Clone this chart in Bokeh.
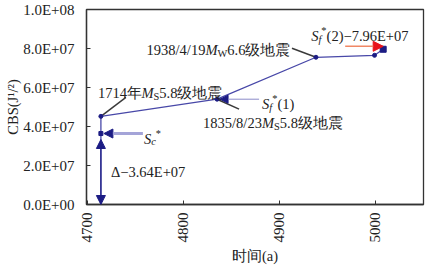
import math
from bokeh.plotting import figure
from bokeh.models import Range1d, FixedTicker, CustomJSTickFormatter, Label, Arrow, NormalHead, Title
from bokeh.embed import file_html
from bokeh.resources import INLINE

# ---------------- data ----------------
years = [4714, 4835, 4938, 4999, 5008]
cbs = [4.52e7, 5.40e7, 7.55e7, 7.65e7, 7.96e7]
sc_year = 4714
sc_value = 3.64e7
x_ticks = [4700, 4800, 4900, 5000]
y_ticks = [0, 2e7, 4e7, 6e7, 8e7, 1e8]
x_title = "时间(a)"
y_title = "CBS(J¹/²)"

# ---------------- layout ----------------
W, H = 430, 266
BL, BR, BT, BB = 86, 7, 9, 61
X0, X1 = 4699, 5050
Y0, Y1 = 0, 1e8
FW = W - BL - BR
FH = H - BT - BB
def dx(px):
    return px * (X1 - X0) / FW
def dy(px):
    return px * (Y1 - Y0) / FH

FONT = "Times New Roman"
FS = 14.5
TFS = 15
TXT = "#222222"
LINE = "#4848a8"
DARK = "#1c1c84"

p = figure(width=W, height=H, output_backend="svg", toolbar_location=None,
           x_range=Range1d(X0, X1), y_range=Range1d(Y0, Y1),
           min_border_left=BL, min_border_right=BR, min_border_top=BT, min_border_bottom=BB)
p.background_fill_color = "white"
p.border_fill_color = "white"
p.outline_line_color = "#333333"
p.outline_line_width = 1.3
p.grid.visible = False

for ax in (p.xaxis[0], p.yaxis[0]):
    ax.axis_line_color = "#333333"
    ax.axis_line_width = 1.3
    ax.major_tick_in = 4
    ax.major_tick_out = 0
    ax.major_tick_line_color = "#333333"
    ax.minor_tick_line_color = None
    ax.major_label_text_font = FONT
    ax.major_label_text_font_size = f"{TFS}px"
    ax.major_label_text_color = TXT
    ax.axis_label_text_font = FONT
    ax.axis_label_text_font_size = f"{FS}px"
    ax.axis_label_text_font_style = "normal"
    ax.axis_label_text_color = TXT

p.xaxis.ticker = FixedTicker(ticks=x_ticks)
p.yaxis.ticker = FixedTicker(ticks=y_ticks)
p.xaxis.major_label_orientation = math.pi / 2
p.xaxis.major_label_standoff = 8
p.yaxis.major_label_standoff = 12
p.yaxis.formatter = CustomJSTickFormatter(code="""
const s = tick.toExponential(1).split('e');
const e = parseInt(s[1]);
return s[0] + 'E' + (e < 0 ? '-' : '+') + String(Math.abs(e)).padStart(2, '0');
""")
p.xaxis.axis_label = x_title
p.xaxis.axis_label_standoff = 2

# y-axis title placed as a left-side title (outermost)
p.add_layout(Title(text=y_title, align="center", text_font=FONT, text_font_size=f"{FS}px",
                   text_font_style="normal", text_color=TXT, standoff=0, offset=0), "left")

# ---------------- rich text helper ----------------
REG = {'.': .25, '/': .278, '(': .333, ')': .333, '+': .564, '−': .564, '-': .333,
       'E': .611, 'Δ': .612, '*': .5, 'C': .667, 'B': .667, 'S': .556, 'J': .389,
       ' ': .25, 'a': .444, 'W': .944, 'M': .889}
ITA = {'M': .833, 'S': .5, 'f': .278, 'c': .444}

def cw(c, it):
    if c.isdigit():
        return .5
    if ord(c) > 0x2E80:
        return 1.0
    if it and c in ITA:
        return ITA[c]
    return REG.get(c, .5)

def rich(x, y, segs, size=FS, x_off=0, y_off=0, align='left', color=TXT):
    pieces = []
    total = 0
    for t, st in segs:
        small = st in ('sub', 'isub', 'sup')
        fs = size * 0.72 if small else size
        it = st in ('i', 'isub')
        w = sum(cw(c, it) for c in t) * fs
        pieces.append((t, st, fs, it, total))
        total += w
    start = {'left': 0, 'center': -total / 2, 'right': -total}[align]
    for t, st, fs, it, off in pieces:
        shift = -0.22 * size if st in ('sub', 'isub') else (0.38 * size if st == 'sup' else 0)
        p.add_layout(Label(x=x, y=y, text=t, x_offset=x_off + start + off, y_offset=y_off + shift,
                           text_font=FONT, text_font_size=f"{fs:.1f}px",
                           text_font_style='italic' if it else 'normal',
                           text_baseline='alphabetic', text_align='left',
                           text_color=color))

# ---------------- marks ----------------
p.line([sc_year, sc_year], [0, cbs[0]], line_color=LINE, line_width=1.3)
p.line(years, cbs, line_color=LINE, line_width=1.3)

# Δ double arrow
p.add_layout(Arrow(x_start=sc_year, y_start=sc_value - dy(6), x_end=sc_year, y_end=0,
                   line_color=DARK, line_width=1.2,
                   start=NormalHead(size=9, fill_color=DARK, line_color=DARK),
                   end=NormalHead(size=9, fill_color=DARK, line_color=DARK)))

# leader lines
lead = "#3a3a3a"
p.segment(x0=[years[0], years[1], years[2]],
          y0=[cbs[0], cbs[1], cbs[2]],
          x1=[years[0] + dx(25), years[1] + dx(22), years[2] - dx(24)],
          y1=[cbs[0] + dy(19), cbs[1] - dy(10), cbs[2] + dy(9)],
          line_color=lead, line_width=1.5)

# Sc* arrow
p.add_layout(Arrow(x_start=sc_year + dx(42), y_start=sc_value, x_end=sc_year + dx(3), y_end=sc_value,
                   line_color="#a4a4d8", line_width=3,
                   end=NormalHead(size=9, fill_color=DARK, line_color=DARK)))
# Sf*(1) arrow
p.add_layout(Arrow(x_start=years[1] + dx(42), y_start=cbs[1], x_end=years[1] + dx(3), y_end=cbs[1],
                   line_color="#8a8ac8", line_width=1,
                   end=NormalHead(size=8, fill_color=DARK, line_color=DARK)))
# red arrow to final value
p.add_layout(Arrow(x_start=years[-1] - dx(38), y_start=cbs[-1] + dy(3), x_end=years[-1], y_end=cbs[-1] + dy(3),
                   line_color="#f08866", line_width=1.5,
                   end=NormalHead(size=10, fill_color="#e8141c", line_color="#e8141c")))

p.scatter(years, cbs, size=4, color=DARK)
p.scatter([sc_year], [sc_value], size=4, marker="square", color=DARK)
p.scatter([years[-1]], [cbs[-1]], size=6, marker="square", color=DARK)

# ---------------- texts ----------------
rich(years[0], cbs[0], [("1714年", 'n'), ("M", 'i'), ("S", 'sub'), ("5.8级地震", 'n')], x_off=-3, y_off=23)
rich(years[2], cbs[2], [("1938/4/19", 'n'), ("M", 'i'), ("W", 'sub'), ("6.6级地震", 'n')], x_off=-27, y_off=7, align='right')
rich(years[1], cbs[1], [("1835/8/23", 'n'), ("M", 'i'), ("S", 'sub'), ("5.8级地震", 'n')], x_off=-14, y_off=-24)
rich(years[1], cbs[1], [("S", 'i'), ("f", 'isub'), ("*", 'sup'), ("(1)", 'n')], x_off=45, y_off=-5)
rich(sc_year, sc_value, [("S", 'i'), ("c", 'isub'), (" *", 'sup')], x_off=43, y_off=-5)
rich(sc_year, sc_value / 2, [("Δ−3.64E+07", 'n')], x_off=10, y_off=-3)
rich(years[-1], cbs[-1], [("S", 'i'), ("f", 'isub'), ("*", 'sup'), ("(2)−7.96E+07", 'n')], x_off=-72, y_off=13)

open("out.html", "w").write(file_html(p, INLINE))
